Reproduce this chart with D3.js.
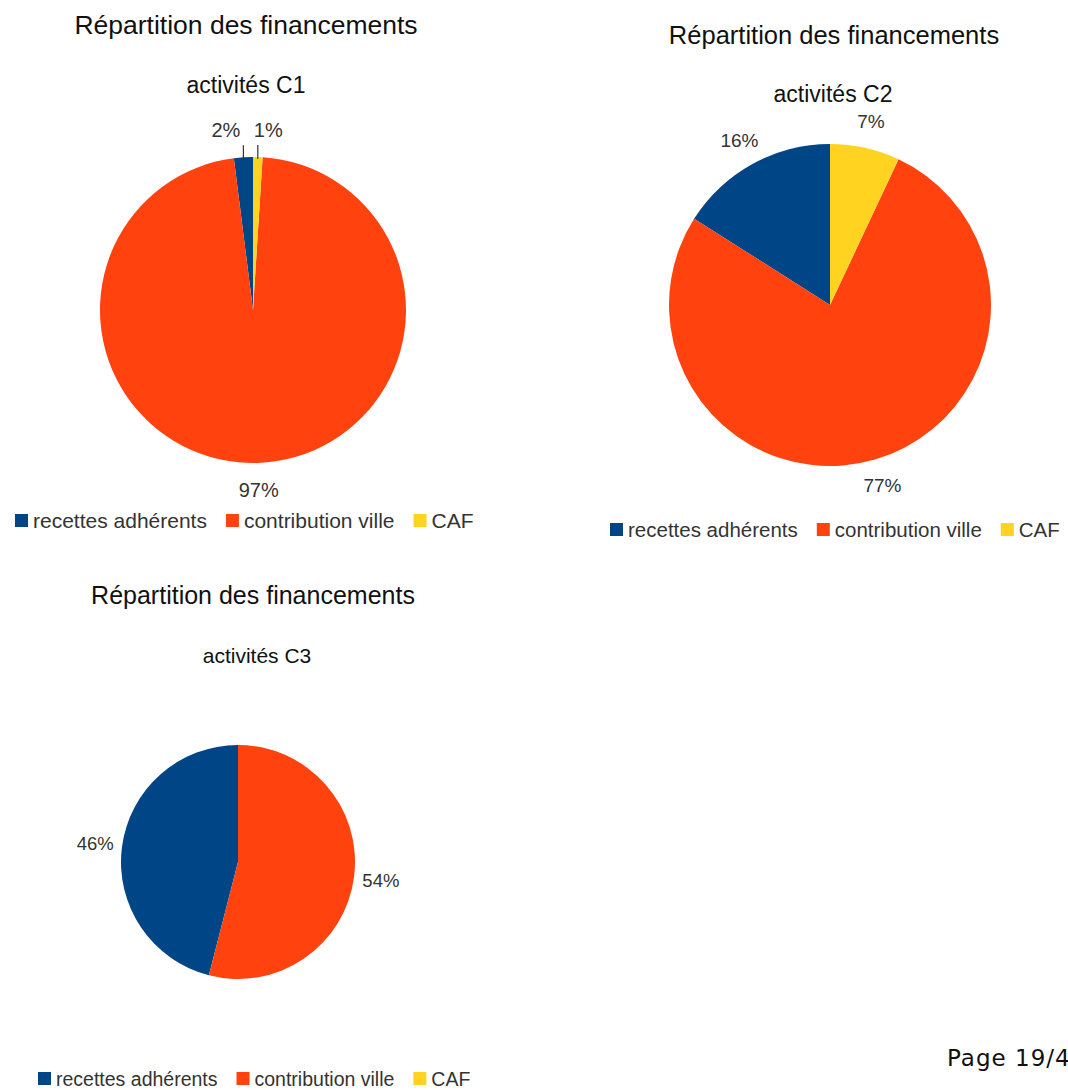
<!DOCTYPE html>
<html>
<head>
<meta charset="utf-8">
<script src="https://cdn.jsdelivr.net/npm/d3@7"></script>
<style>
  body { margin: 0; background: #fff; }
  svg text { font-family: "Liberation Sans", Arial, sans-serif; }
</style>
</head>
<body>
<div id="chart"></div>
<script>

    // data
    const categories = ["recettes adhérents", "contribution ville", "CAF"];
    const colors = ["#004586", "#ff420e", "#ffd320"];
    const title = "Répartition des financements";
    const subtitles = ["activités C1", "activités C2", "activités C3"];
    const valuesC1 = [2, 97, 1];
    const valuesC2 = [16, 77, 7];
    const valuesC3 = [46, 54, 0];
    const pageLabel = "Page 19/47";

    const WIDTH = 1068;
    const HEIGHT = 1090;

    // layout of each panel (positions only)
    var panels = [
        {values: valuesC1, sub: subtitles[0], cx: 253, cy: 310, r: 153,
         titleX: 246, titleY: 34, titleSize: 26.5, subX: 246, subY: 93, subSize: 23,
         labelSize: 20, legendX: 15, legendY: 528, legendSize: 21},
        {values: valuesC2, sub: subtitles[1], cx: 830, cy: 305, r: 161,
         titleX: 834, titleY: 44, titleSize: 25.5, subX: 833, subY: 102, subSize: 23,
         labelSize: 19, legendX: 610, legendY: 537, legendSize: 20.5},
        {values: valuesC3, sub: subtitles[2], cx: 238, cy: 862, r: 117,
         titleX: 253, titleY: 604, titleSize: 25, subX: 257, subY: 663, subSize: 21,
         labelSize: 18.5, legendX: 38, legendY: 1086, legendSize: 19.5}
    ];

    var svg = d3.select("#chart").append("svg")
        .attr("width", WIDTH)
        .attr("height", HEIGHT);

    // LibreOffice draws slices counter-clockwise from the top
    var pie = d3.pie()
        .sort(null)
        .startAngle(0)
        .endAngle(-2 * Math.PI);

    panels.forEach(function(p) {

        svg.append("text")
            .attr("x", p.titleX)
            .attr("y", p.titleY)
            .attr("text-anchor", "middle")
            .attr("font-size", p.titleSize)
            .attr("fill", "#111")
            .text(title);

        svg.append("text")
            .attr("x", p.subX)
            .attr("y", p.subY)
            .attr("text-anchor", "middle")
            .attr("font-size", p.subSize)
            .attr("fill", "#111")
            .text(p.sub);

        var arcs = pie(p.values);
        var arc = d3.arc().innerRadius(0).outerRadius(p.r);

        var g = svg.append("g")
            .attr("transform", "translate(" + p.cx + "," + p.cy + ")");

        g.selectAll("path")
            .data(arcs)
            .enter()
            .append("path")
            .attr("d", arc)
            .attr("fill", function(d, i) { return colors[i]; });

        var total = d3.sum(p.values);
        var labelR = p.r + 27;

        arcs.forEach(function(d) {
            if (d.value <= 0) return;
            var mid = (d.startAngle + d.endAngle) / 2;
            var pct = Math.round(d.value / total * 100) + "%";
            var small = d.value / total < 0.03;

            if (small) {
                // leader line straight up from the slice edge
                var lx = p.r * Math.sin(mid);
                var ly = -p.r * Math.cos(mid);
                g.append("line")
                    .attr("x1", lx).attr("y1", ly + 2)
                    .attr("x2", lx).attr("y2", ly - 12)
                    .attr("stroke", "#333")
                    .attr("stroke-width", 1.2);
                var left = Math.sin(mid) < 0;
                g.append("text")
                    .attr("x", left ? lx - 3 : lx - 4)
                    .attr("y", -labelR * Math.cos(mid))
                    .attr("dy", "0.35em")
                    .attr("text-anchor", left ? "end" : "start")
                    .attr("font-size", p.labelSize)
                    .attr("fill", "#333")
                    .text(pct);
            } else {
                g.append("text")
                    .attr("x", labelR * Math.sin(mid))
                    .attr("y", -labelR * Math.cos(mid))
                    .attr("dy", "0.35em")
                    .attr("text-anchor", "middle")
                    .attr("font-size", p.labelSize)
                    .attr("fill", "#333")
                    .text(pct);
            }
        });

        // legend
        var x = p.legendX;
        categories.forEach(function(c, i) {
            svg.append("rect")
                .attr("x", x)
                .attr("y", p.legendY - 14)
                .attr("width", 13)
                .attr("height", 13)
                .attr("fill", colors[i]);
            var t = svg.append("text")
                .attr("x", x + 18)
                .attr("y", p.legendY)
                .attr("font-size", p.legendSize)
                .attr("fill", "#333")
                .text(c);
            x = x + 18 + t.node().getComputedTextLength() + 19;
        });
    });

    svg.append("text")
        .attr("x", 947)
        .attr("y", 1066)
        .style("font-family", "'DejaVu Sans', sans-serif")
        .attr("font-size", 23)
        .attr("letter-spacing", 1)
        .attr("fill", "#111")
        .text(pageLabel);

</script>
</body>
</html>
